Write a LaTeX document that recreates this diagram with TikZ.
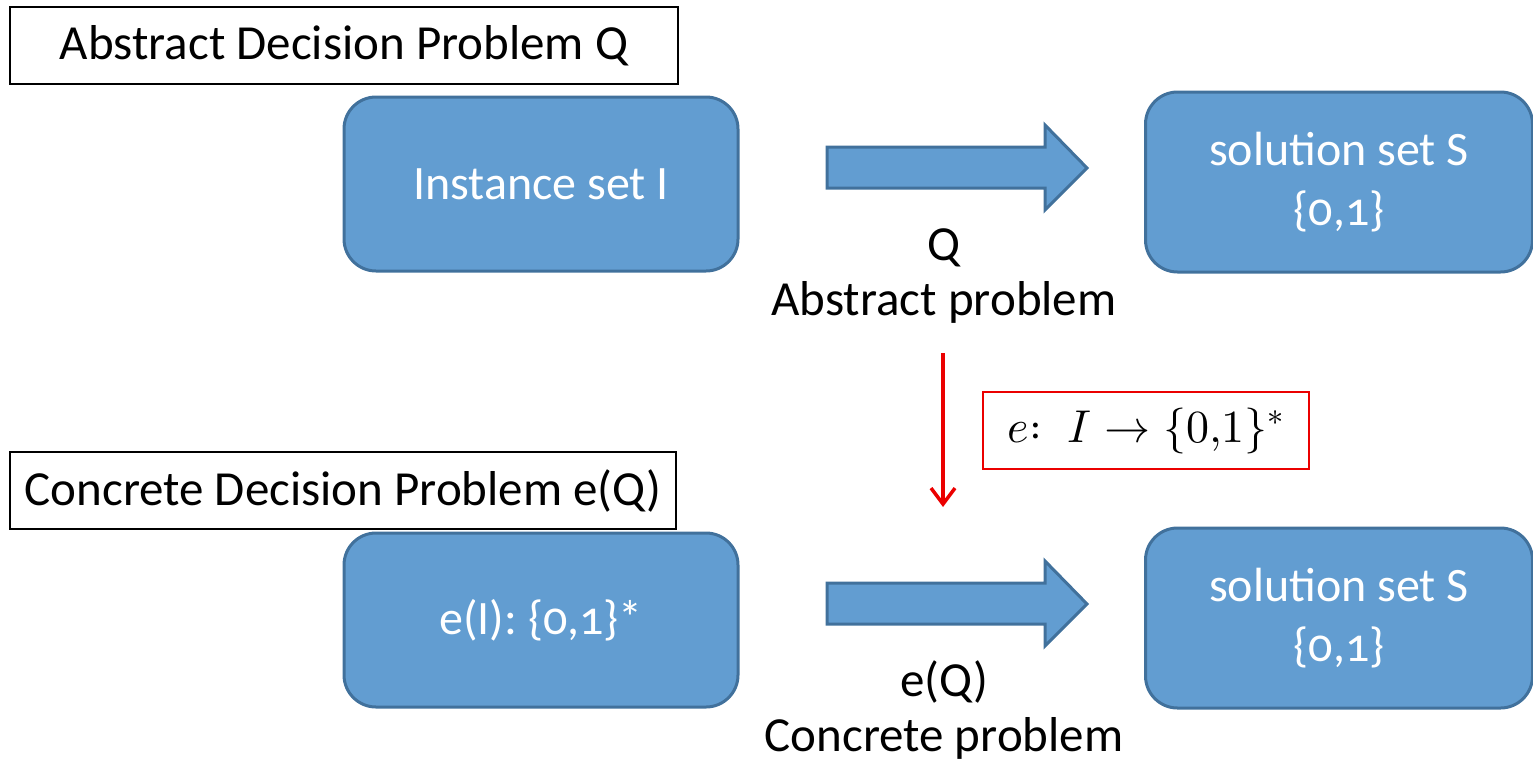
\documentclass[tikz,border=0pt]{standalone}
\usepackage{amsmath}
\usepackage{fontspec}
\usepackage{unicode-math}
\setmainfont{Carlito}
\setmathfont{Latin Modern Math}
\usetikzlibrary{arrows.meta, positioning}

\definecolor{boxblue}{RGB}{98, 157, 209}
\definecolor{edgeblue}{RGB}{65, 113, 156}
\definecolor{encred}{RGB}{235, 0, 0}

\newcommand{\oldnum}[1]{{\addfontfeatures{Numbers=OldStyle}#1}}

\tikzset{
  headbox/.style={draw=black, line width=2.5pt, minimum width=668pt, minimum height=77pt,
    inner sep=0pt, font=\fontsize{49}{56}\selectfont},
  setbox/.style={draw=edgeblue, fill=boxblue, line width=3pt, rounded corners=32pt,
    minimum width=394pt, minimum height=174pt, inner sep=0pt, text=white, align=center,
    font=\fontsize{48}{60}\selectfont},
  solbox/.style={setbox, minimum width=387pt, minimum height=180pt},
  fatarrow/.style={draw=edgeblue, fill=boxblue, line width=3pt, line join=miter},
  caption/.style={align=center, inner sep=0pt, font=\fontsize{49}{55}\selectfont},
  encbox/.style={draw=encred, line width=1.5pt, minimum width=326pt, minimum height=77pt,
    inner sep=0pt, font=\fontsize{46}{52}\selectfont},
  encarrow/.style={draw=encred, line width=3.5pt, -{Straight Barb[length=16pt, width=24pt]}},
}

\begin{document}
\begin{tikzpicture}[x=1pt, y=-1pt]
  \useasboundingbox (0,0) rectangle (1533,764);

  % Abstract problem row
  \node[headbox] (absHead) at (344,45.5) {Abstract Decision Problem Q};
  \node[setbox] (absInst) at (541,184) {Instance set I};
  \node[solbox] (absSol) at (1339,182) {solution set S\\\oldnum{\{0,1\}}};
  \node[caption] (absName) at (944,276) {Q\\Abstract problem};

  % Concrete problem row
  \node[headbox, minimum width=666pt] (conHead) at (343,490.5) {Concrete Decision Problem e(Q)};
  \node[setbox] (conInst) at (541,620) {e(I): \oldnum{\{0,1\}}*};
  \node[solbox] (conSol) at (1339,618) {solution set S\\\oldnum{\{0,1\}}};
  \node[caption] (conName) at (944,710) {e(Q)\\Concrete problem};

  % Block arrows between the sets
  \foreach \dy in {0,436}
    \draw[fatarrow] (827,147+\dy) -- ++(218,0) -- ++(0,-22) -- ++(42,43)
      -- ++(-42,42) -- ++(0,-22) -- ++(-218,0) -- cycle;

  % Encoding map
  \coordinate (encTop) at (943,353);
  \coordinate (encEnd) at (943,507);
  \draw[encarrow] (encTop) -- (encEnd);
  \node[encbox] (encMap) at (1146,430.5) {$e{:}\;\; I \rightarrow \{0{,}1\}^{*}$};
\end{tikzpicture}
\end{document}
